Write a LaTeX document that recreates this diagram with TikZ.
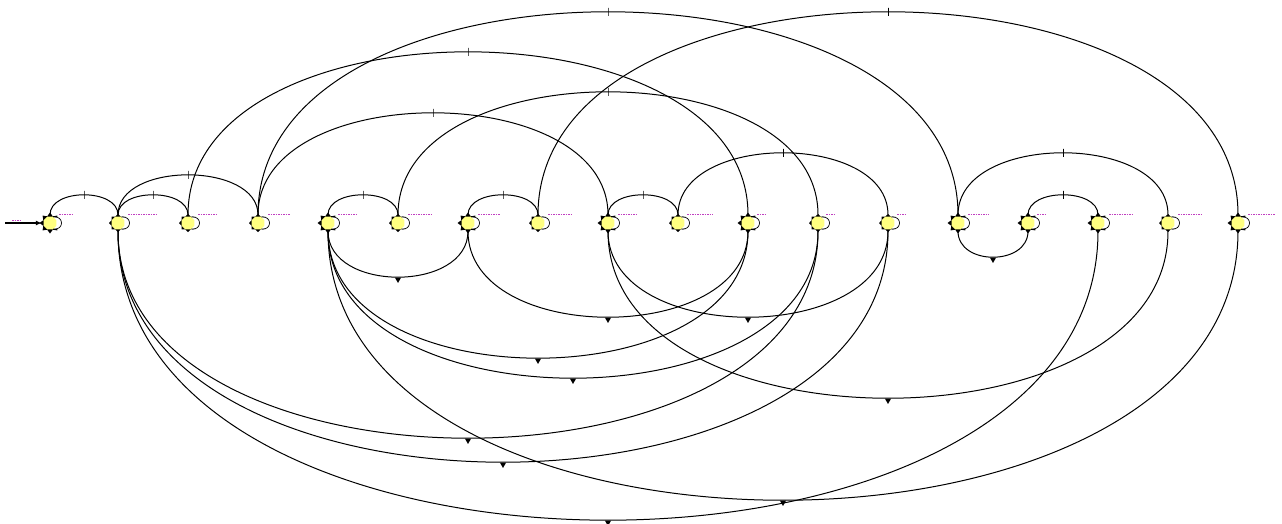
\documentclass[tikz,border=0pt]{standalone}
\usetikzlibrary{shapes.geometric,arrows.meta,calc}
\definecolor{stfill}{HTML}{FFFF80}
\definecolor{lbl}{HTML}{C040C0}
\tikzset{
  st/.style={circle, minimum size=16pt, inner sep=0pt},
  conn/.style={draw=black, line width=1pt},
  uptick/.style={rectangle, draw=black, line width=0.9pt, minimum width=0pt, minimum height=8pt, inner sep=0pt},
  dntri/.style={regular polygon, regular polygon sides=3, shape border rotate=180, fill=black, minimum size=7pt, inner sep=0pt, anchor=north},
  bigstar/.style={star, star points=8, star point ratio=1.45, fill=black, minimum size=21pt, inner sep=0pt},
  smallstar/.style={star, star points=8, star point ratio=1.3, fill=black, minimum size=18pt, inner sep=0pt},
  core/.style={regular polygon, regular polygon sides=8, fill=stfill, minimum size=14pt, inner sep=0pt},
  lab/.style={draw=lbl, line width=0.9pt, dash pattern=on 1.5pt off 1pt},
}
\newcommand\upa[3]{\draw[conn] (#1.north) .. controls +(0,-#3) and +(0,-#3) .. (#2.north) node[midway,uptick]{};}
\newcommand\lwa[3]{\draw[conn] (#1.south) .. controls +(0,#3) and +(0,#3) .. (#2.south) node[midway,dntri]{};}
\begin{document}
\begin{tikzpicture}[x=1pt,y=-1pt]
\useasboundingbox (0,0) rectangle (1282,523);
\foreach \i/\x in {1/50,2/118,3/188,4/258,5/328,6/398,7/468,8/538,9/608,10/678,11/748,12/818,13/888,14/958,15/1028,16/1098,17/1168,18/1238}
  \node[st] (n\i) at (\x,223) {};
% upper arcs
\upa{n1}{n2}{26.7}
\upa{n2}{n3}{26.7}
\upa{n2}{n4}{53.3}
\upa{n3}{n11}{217.3}
\upa{n4}{n14}{270.7}
\upa{n4}{n9}{136}
\upa{n6}{n12}{164}
\upa{n8}{n18}{270.7}
\upa{n10}{n13}{82.7}
\upa{n5}{n6}{26.7}
\upa{n7}{n8}{26.7}
\upa{n9}{n10}{26.7}
\upa{n15}{n16}{26.7}
\upa{n14}{n17}{82.7}
% lower arcs
\lwa{n5}{n7}{61.3}
\lwa{n7}{n11}{114.7}
\lwa{n9}{n13}{114.7}
\lwa{n5}{n11}{169.3}
\lwa{n5}{n12}{196}
\lwa{n9}{n17}{222.7}
\lwa{n2}{n12}{276}
\lwa{n2}{n13}{308}
\lwa{n5}{n18}{358.7}
\lwa{n2}{n16}{385.3}
\lwa{n14}{n15}{34.7}
% initial arrow
\coordinate (start) at (5,223);
\draw[line width=1.4pt, -{Latex[length=6pt,width=5pt]}] (start) -- (n1.west);
\draw[lab] (12,220) -- (21,220);
% state looks
\foreach \i in {1,5,7,9,11,14,15,16,18} \node[bigstar] at (n\i) {};
\foreach \i in {2,3,4,6,8,10,12,13,17} \node[smallstar] at (n\i) {};
\foreach \i in {1,...,18} {
  \draw[line width=0.7pt, fill=white] ($(n\i)+(4,-6)$) .. controls +(10,-1) and +(10,1) .. ($(n\i)+(4,6)$);
  \node[core] at (n\i) {};
}
% labels
\foreach \a/\b in {59/73,128/157,198/218,268/290,338/358,408/433,478/500,548/573,618/637,687/713,757/766,826/835,897/905,968/989,1037/1045,1109/1134,1178/1203,1248/1275}
  \draw[lab] (\a,214) -- (\b,214);
\end{tikzpicture}
\end{document}
